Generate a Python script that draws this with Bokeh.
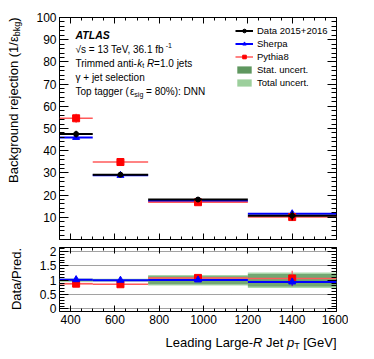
import math
from bokeh.plotting import figure
from bokeh.models import (FixedTicker, LinearAxis, Label, ColumnDataSource, Grid,
                          Legend, LegendItem, CustomLabelingPolicy)
from bokeh.layouts import column, row
from bokeh.embed import file_html
from bokeh.resources import INLINE

# ---------------- data ----------------
bin_lo = [350, 500, 750, 1200]
bin_hi = [500, 750, 1200, 1600]

data_rej = [47.5, 29.2, 18.0, 10.7]
data_err = [1.5, 0.8, 0.8, 2.0]
sherpa_rej = [46.0, 28.9, 17.3, 11.6]
sherpa_err = [1.0, 0.5, 0.5, 0.8]
pythia_rej = [54.6, 34.9, 16.8, 10.1]
pythia_err = [2.0, 1.3, 1.0, 1.8]

sherpa_ratio = [1.02, 1.00, 1.01, 0.94]
sherpa_ratio_err = [0.04, 0.03, 0.05, 0.13]
pythia_ratio = [0.88, 0.86, 1.08, 1.06]
pythia_ratio_err = [0.04, 0.04, 0.07, 0.27]
pythia_ratio_band = [0.03, 0.012, 0.01, 0.01]
stat_unc = [0.03, 0.02, 0.14, 0.22]
total_unc = [0.06, 0.05, 0.18, 0.27]

x_ticks = [400, 600, 800, 1000, 1200, 1400, 1600]
x_minor = list(range(350, 1601, 50))
rej_ticks = [10, 20, 30, 40, 50, 60, 70, 80, 90, 100]
rej_minor = list(range(0, 101, 2))
ratio_ticks = [0, 0.5, 1, 1.5, 2]
ratio_labels = {0: "0", 0.5: "0.5", 1: "1", 1.5: "1.5", 2: "2"}
ratio_minor = [round(i * 0.1, 1) for i in range(0, 22)]

FONT = "Liberation Sans"
BLACK, BLUE, RED = "#000000", "#0000ff", "#ff0000"
RED_LINE = "#ff5a5a"
STAT_GREEN, TOTAL_GREEN = "#5f975f", "#9ccf9c"
NB = "\u00a0"

centers = [(a + b) / 2 for a, b in zip(bin_lo, bin_hi)]

# ---------------- text width helper (Arial/Helvetica metrics) ----------------
CW = {' ': .278, NB: .278, '(': .333, ')': .333, '+': .584, ',': .278, '-': .333,
      '.': .278, '/': .278, ':': .278, '=': .584, '%': .889, '[': .278, ']': .278,
      'ε': .44, 'γ': .5, '√': .55,
      'a': .556, 'b': .556, 'c': .5, 'd': .556, 'e': .556, 'f': .278, 'g': .556,
      'h': .556, 'i': .222, 'j': .222, 'k': .5, 'l': .222, 'm': .833, 'n': .556,
      'o': .556, 'p': .556, 'q': .556, 'r': .333, 's': .5, 't': .278, 'u': .556,
      'v': .5, 'w': .722, 'x': .5, 'y': .5, 'z': .5,
      'A': .667, 'B': .667, 'C': .722, 'D': .722, 'E': .667, 'G': .778, 'J': .5,
      'L': .556, 'N': .722, 'P': .667, 'R': .722, 'S': .667, 'T': .611, 'V': .667}


def tw(s, size):
    return sum(CW.get(c, .556) for c in s) * size


def rich(fig, x, y, parts, vertical=False):
    pos = y if vertical else x
    for text, size, shift, style in parts:
        kw = dict(text=text, x_units="screen", y_units="screen", text_font=FONT,
                  text_font_size=f"{size}px", text_font_style=style,
                  text_baseline="alphabetic", text_align="left", text_color="black")
        if vertical:
            fig.add_layout(Label(x=x - shift, y=pos, angle=math.pi / 2, **kw))
        else:
            fig.add_layout(Label(x=pos, y=y + shift, **kw))
        pos += tw(text, size)


NO_LABELS = CustomLabelingPolicy(code="""
const idx = [...indices]
for (const i of idx) indices.unset(i)
return indices
""")

LEFT_W = 26


def add_axis(fig, side, ticks, minor, show_labels, major_len, minor_len, overrides=None):
    ax = LinearAxis(ticker=FixedTicker(ticks=ticks, minor_ticks=minor))
    ax.major_tick_in = major_len
    ax.major_tick_out = 0
    ax.minor_tick_in = minor_len
    ax.minor_tick_out = 0
    ax.axis_line_color = None
    ax.major_tick_line_color = "black"
    ax.minor_tick_line_color = "black"
    if show_labels:
        ax.major_label_text_font = FONT
        ax.major_label_text_font_size = "12px"
        ax.major_label_text_color = "black"
        ax.major_label_standoff = 3
        if overrides:
            ax.major_label_overrides = overrides
    else:
        ax.major_label_text_font_size = "1px"
        ax.major_label_standoff = 0
        ax.major_label_policy = NO_LABELS
    fig.add_layout(ax, side)
    return ax


def base_fig(height, y_range, top, bottom):
    f = figure(width=348 - LEFT_W, height=height, x_range=(350, 1600), y_range=y_range,
               output_backend="svg", toolbar_location=None,
               x_axis_location=None, y_axis_location=None,
               min_border_left=59 - LEFT_W, min_border_right=12,
               min_border_top=top, min_border_bottom=bottom)
    f.grid.visible = False
    f.outline_line_color = "black"
    f.outline_line_width = 1
    f.background_fill_color = "white"
    return f


def text_fig(width, height):
    f = figure(width=width, height=height, x_range=(0, 1), y_range=(0, 1),
               output_backend="svg", toolbar_location=None,
               x_axis_location=None, y_axis_location=None, min_border=0)
    f.grid.visible = False
    f.outline_line_color = None
    return f


def series(fig, vals, errs, color, line_color, lw, marker, msize):
    src = ColumnDataSource(dict(lo=bin_lo, hi=bin_hi, x=centers, y=vals,
                                ylo=[v - e for v, e in zip(vals, errs)],
                                yhi=[v + e for v, e in zip(vals, errs)]))
    hl = fig.segment(x0="lo", x1="hi", y0="y", y1="y", source=src,
                     line_color=line_color, line_width=lw)
    fig.segment(x0="x", x1="x", y0="ylo", y1="yhi", source=src,
                line_color=line_color, line_width=1.2)
    vt = fig.scatter(x="x", y="y", source=src, marker="dash", angle=math.pi / 2,
                     size=9, line_color=line_color, line_width=1.2, visible=False)
    sc = fig.scatter(x="x", y="y", source=src, marker=marker, size=msize,
                     fill_color=color, line_color=color)
    return [hl, vt, sc]


# ---------------- top panel ----------------
top = base_fig(243, (0, 100), 17, 3)
add_axis(top, "left", rej_ticks, rej_minor, True, 9, 5)
add_axis(top, "right", rej_ticks, rej_minor, False, 9, 5)
add_axis(top, "above", x_ticks, x_minor, False, 6, 3)
add_axis(top, "below", x_ticks, x_minor, False, 6, 3)

sherpa_r = series(top, sherpa_rej, sherpa_err, BLUE, BLUE, 2, "triangle", 7)
pythia_r = series(top, pythia_rej, pythia_err, RED, RED_LINE, 1.5, "square", 7)
data_r = series(top, data_rej, data_err, BLACK, BLACK, 2, "circle", 5)

band = ColumnDataSource(dict(
    lo=bin_lo, hi=bin_hi,
    tb=[1 - u for u in total_unc], tt=[1 + u for u in total_unc],
    sb=[1 - u for u in stat_unc], st=[1 + u for u in stat_unc],
    pb=[r - u for r, u in zip(pythia_ratio, pythia_ratio_band)],
    pt=[r + u for r, u in zip(pythia_ratio, pythia_ratio_band)]))

# legend-only copies of the ratio-panel bands (hidden in the top panel)
stat_leg = top.quad(left="lo", right="hi", bottom="sb", top="st", source=band,
                    fill_color=STAT_GREEN, line_color=None, visible=False)
tot_leg = top.quad(left="lo", right="hi", bottom="tb", top="tt", source=band,
                   fill_color=TOTAL_GREEN, line_color=None, visible=False)

legend = Legend(items=[
    LegendItem(label="Data 2015+2016", renderers=data_r),
    LegendItem(label="Sherpa", renderers=sherpa_r),
    LegendItem(label="Pythia8", renderers=pythia_r),
    LegendItem(label="Stat. uncert.", renderers=[stat_leg]),
    LegendItem(label="Total uncert.", renderers=[tot_leg]),
], location=(176, 151))
legend.border_line_color = None
legend.background_fill_alpha = 0
legend.padding = 0
legend.margin = 0
legend.spacing = 2
legend.glyph_width = 18
legend.glyph_height = 9
legend.label_height = 9
legend.label_standoff = 4
legend.label_text_font = FONT
legend.label_text_font_size = "9.5px"
legend.label_text_color = "black"
top.add_layout(legend, "center")

# annotation texts (screen units relative to the frame)
rich(top, 16, 204.6, [("ATLAS", 10.5, 0, "bold italic")])
rich(top, 16, 190.3, [("√s = 13 TeV, 36.1 fb", 10, 0, "normal"), ("-1", 7, 4, "normal")])
rich(top, 16, 176.1, [("Trimmed anti-", 10, 0, "normal"), ("k", 10, 0, "italic"),
                      ("t", 7, -2.5, "normal"), (NB, 10, 0, "normal"),
                      ("R", 10, 0, "italic"), ("=1.0 jets", 10, 0, "normal")])
rich(top, 16, 161.9, [("γ + jet selection", 10, 0, "normal")])
rich(top, 16, 147.7, [("Top tagger (", 10, 0, "normal"), ("ε", 10, 0, "normal"),
                      ("sig", 7, -2.5, "normal"), (NB + "= 80%): DNN", 10, 0, "normal")])

# ---------------- ratio panel ----------------
bot = base_fig(93, (-0.09, 2.14), 3, 25)
add_axis(bot, "left", ratio_ticks, ratio_minor, True, 9, 5, overrides=ratio_labels)
add_axis(bot, "right", ratio_ticks, ratio_minor, False, 9, 5)
add_axis(bot, "above", x_ticks, x_minor, False, 6, 3)
add_axis(bot, "below", x_ticks, x_minor, True, 6, 3)
bot.add_layout(Grid(dimension=1, ticker=FixedTicker(ticks=ratio_ticks),
                    grid_line_color="#444444", grid_line_dash="1 1", grid_line_width=1))

bot.quad(left="lo", right="hi", bottom="tb", top="tt", source=band,
         fill_color=TOTAL_GREEN, fill_alpha=0.85, line_color=None)
bot.quad(left="lo", right="hi", bottom="sb", top="st", source=band,
         fill_color=STAT_GREEN, fill_alpha=0.75, line_color=None)
bot.quad(left="lo", right="hi", bottom="pb", top="pt", source=band,
         fill_color="#ffaaaa", fill_alpha=0.9, line_color=None)

series(bot, pythia_ratio, pythia_ratio_err, RED, RED_LINE, 1.5, "square", 7)
series(bot, sherpa_ratio, sherpa_ratio_err, BLUE, BLUE, 2, "triangle", 7)

# ---------------- axis titles (separate text-only figures) ----------------
LEFT_H = 243 + 93 + 20
yfig = text_fig(LEFT_W, LEFT_H)
ytitle = [("Background rejection (1/", 13, 0, "normal"), ("ε", 13, 0, "normal"),
          ("bkg", 9, -3.5, "normal"), (")", 13, 0, "normal")]
ylen = sum(tw(t, s) for t, s, _, _ in ytitle)
rich(yfig, 12.5, (LEFT_H - 17) - ylen, ytitle, vertical=True)
yfig.add_layout(Label(x=16, y=LEFT_H - 278.5, x_units="screen", y_units="screen",
                      text="Data/Pred.", angle=math.pi / 2, text_font=FONT,
                      text_font_size="13px", text_align="center",
                      text_baseline="alphabetic", text_color="black"))

# the x-title figure's frame is aligned with the panels' frames by the column layout
xfig = text_fig(348 - LEFT_W, 20)
xtitle = [("Leading Large-", 13, 0, "normal"), ("R", 13, 0, "italic"),
          (NB + "Jet" + NB, 13, 0, "normal"), ("p", 13, 0, "italic"),
          ("T", 9, -3.5, "normal"), (NB + "[GeV]", 13, 0, "normal")]
xlen = sum(tw(t, s) for t, s, _, _ in xtitle)
rich(xfig, 277 - xlen, 14, xtitle)

p = row(yfig, column(top, bot, xfig, spacing=0), spacing=0)
open("out.html", "w").write(file_html(p, INLINE))
